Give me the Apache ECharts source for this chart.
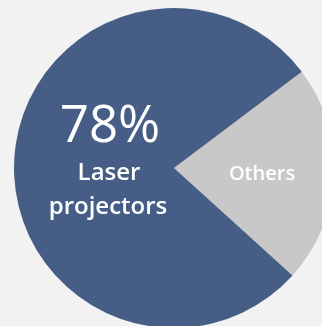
<!DOCTYPE html>
<html>
<head>
<meta charset="utf-8">
<script src="https://cdn.jsdelivr.net/npm/echarts@6/dist/echarts.min.js"></script>
<style>
html,body{margin:0;padding:0;background:#f2f2f2;}
#chart{width:322px;height:326px;}
</style>
</head>
<body>
<div id="chart"></div>
<script>
var categories = ['Others', 'Laser projectors'];
var values = [22, 78];
var colors = ['#c8c8c8', '#465e86'];

var chart = echarts.init(document.getElementById('chart'), null, {renderer: 'canvas'});
var font = '"Open Sans", "Noto Sans", sans-serif';
function txt(x, y, s, f) {
  return {type: 'text', x: x, y: y, z: 100,
    style: {text: s, fill: '#ffffff', font: f, align: 'center', verticalAlign: 'middle'}};
}
chart.setOption({
  backgroundColor: '#f2f2f2',
  animation: false,
  series: [{
    type: 'pie',
    center: [174, 168],
    radius: [0, 160],
    startAngle: 37,
    clockwise: true,
    label: {show: false},
    labelLine: {show: false},
    emphasis: {disabled: true},
    data: categories.map(function (c, i) {
      return {name: c, value: values[i], itemStyle: {color: colors[i]}};
    })
  }],
  graphic: [
    txt(110, 127, values[1] + '%', '500 51px ' + font),
    txt(109, 173, 'Laser', '600 24px ' + font),
    txt(108, 207, 'projectors', '600 24px ' + font),
    txt(262, 174, categories[0], '600 20px ' + font)
  ]
});
</script>
</body>
</html>
